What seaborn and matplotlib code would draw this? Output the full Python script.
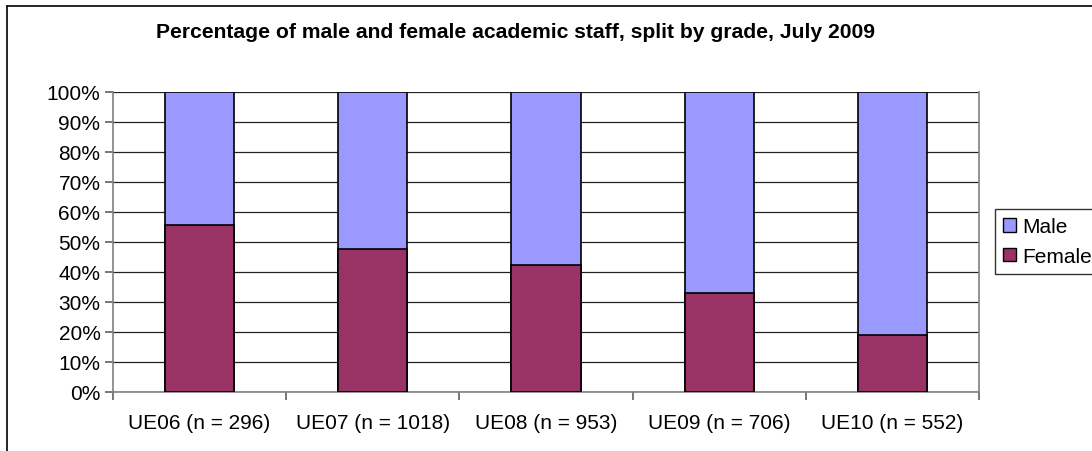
import matplotlib
matplotlib.use("Agg")
import matplotlib.pyplot as plt
import seaborn as sns
import pandas as pd
from matplotlib.patches import Patch
from matplotlib.lines import Line2D
from matplotlib.ticker import FixedLocator, PercentFormatter

categories = ["UE06 (n = 296)", "UE07 (n = 1018)", "UE08 (n = 953)", "UE09 (n = 706)", "UE10 (n = 552)"]
female = [55.7, 47.8, 42.2, 33.0, 18.9]
male = [100 - f for f in female]
title = "Percentage of male and female academic staff, split by grade, July 2009"

sns.set_theme(style="white")
plt.rcParams['font.family'] = ['Liberation Sans', 'DejaVu Sans']
plt.rcParams['text.color'] = 'black'

df = pd.DataFrame({"cat": categories, "female": female, "male": male})
df["total"] = df["female"] + df["male"]

W, H = 1092, 452
fig = plt.figure(figsize=(W / 100, H / 100), dpi=100)
ax = fig.add_axes([113/W, 1 - 393/H, (979-113)/W, (393-93)/H])

male_color = "#9999FF"
female_color = "#993366"

sns.barplot(data=df, x="cat", y="total", color=male_color, width=0.4,
            edgecolor="black", linewidth=1.2, saturation=1, ax=ax, zorder=3)
sns.barplot(data=df, x="cat", y="female", color=female_color, width=0.4,
            edgecolor="black", linewidth=1.2, saturation=1, ax=ax, zorder=3)

ax.set_xlim(-0.5, len(categories) - 0.5)
ax.set_ylim(0, 100)
ax.set_yticks(range(0, 101, 10))
ax.yaxis.set_major_formatter(PercentFormatter(decimals=0))
ax.set_xlabel("")
ax.set_ylabel("")
ax.grid(axis="y", color="#222222", linewidth=0.9, zorder=0)
ax.set_axisbelow(True)
for s in ax.spines.values():
    s.set_color("#808080")
    s.set_linewidth(1.2)
ax.spines["top"].set_visible(False)
ax.tick_params(axis="y", which="major", direction="out", length=6, width=1.2, color="#606060",
               labelsize=15, left=True, pad=3, labelcolor="black")
ax.tick_params(axis="x", which="major", length=0, labelsize=15, pad=15, labelcolor="black")
ax.xaxis.set_minor_locator(FixedLocator([i + 0.5 for i in range(-1, len(categories))]))
ax.tick_params(axis="x", which="minor", direction="out", length=6, width=1.2, color="#606060", bottom=True)

fig.text(516/W, 1 - 33/H, title, ha="center", va="center", fontsize=15.2,
         fontweight="bold", color="black")

handles = [Patch(facecolor=male_color, edgecolor="black", label="Male"),
           Patch(facecolor=female_color, edgecolor="black", label="Female")]
leg = fig.legend(handles=handles, loc="upper left", bbox_to_anchor=(995/W, 1 - 210/H),
                 frameon=True, fancybox=False, fontsize=15, handlelength=0.6, handleheight=0.6,
                 handletextpad=0.3, borderpad=0.4, labelspacing=0.5, borderaxespad=0,
                 labelcolor="black")
leg.get_frame().set_edgecolor("black")
leg.get_frame().set_linewidth(1)

# chart area border (left and top visible in the reference)
fig.add_artist(Line2D([7/W, 7/W], [0, 1 - 7/H], transform=fig.transFigure, color="black", linewidth=1.2))
fig.add_artist(Line2D([7/W, 1], [1 - 7/H, 1 - 7/H], transform=fig.transFigure, color="black", linewidth=1.2))

fig.savefig("out.png", dpi=100)
